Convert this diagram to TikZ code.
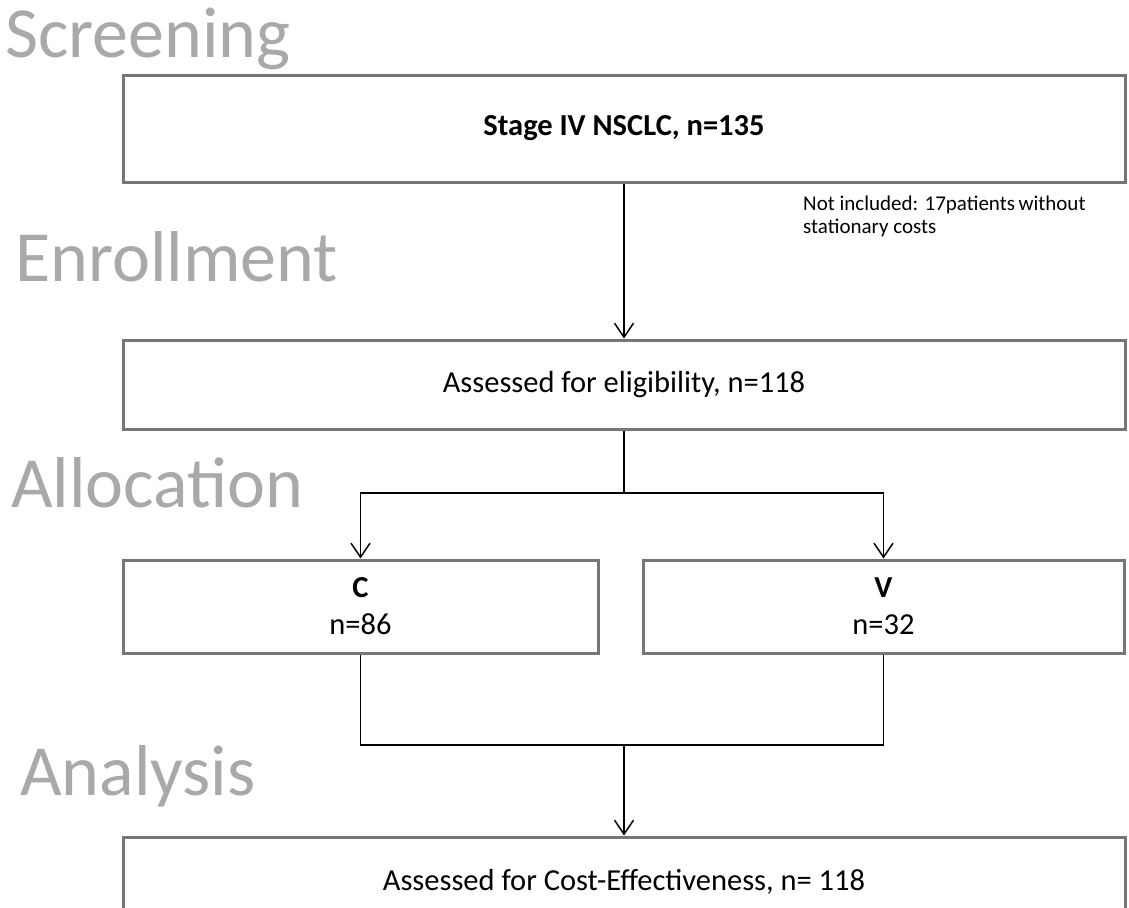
\documentclass[tikz,border=0pt]{standalone}
\usepackage{fontspec}
\setmainfont{Carlito}
\usetikzlibrary{arrows.meta}
\definecolor{boxgray}{HTML}{767676}
\definecolor{phasegray}{HTML}{A9A9A9}
\begin{document}
\begin{tikzpicture}[x=1pt,y=-1pt,
  box/.style={draw=boxgray, line width=3pt, fill=white, rectangle, inner sep=0pt, align=center},
  phase/.style={anchor=base west, inner sep=0pt, text=phasegray, font=\fontsize{72}{86}\selectfont},
  boxtext/.style={font=\fontsize{30.5}{37}\selectfont},
  link/.style={draw=black, line width=1.5pt},
  arr/.style={link, -{Straight Barb[length=14pt,width=19pt,line width=1.5pt]}}
]
\useasboundingbox (0,0) rectangle (1129,907);
\clip (0,0) rectangle (1129,907);
\fill[white] (0,0) rectangle (1129,907);

% phase labels
\node[phase] (ls) at (5,57) {Screening};
\node[phase] (le) at (15,281) {Enrollment};
\node[phase] (la) at (11,507) {Allocation};
\node[phase] (ln) at (20,795) {Analysis};

% boxes
\node[box, boxtext, minimum width=1002pt, minimum height=107pt] (b1) at (624,128.5) {\bfseries Stage IV NSCLC, n=135};
\node[box, boxtext, minimum width=1002pt, minimum height=89pt] (b2) at (624,384.5) {Assessed for eligibility, n=118};
\node[box, boxtext, minimum width=475pt, minimum height=93pt] (bc) at (360.5,606.5) {\textbf{C}\\n=86};
\node[box, boxtext, minimum width=481pt, minimum height=93pt] (bv) at (883.5,606.5) {\textbf{V}\\n=32};
\node[box, boxtext, minimum width=1002pt, minimum height=90pt] (b4) at (624,882) {Assessed for Cost-Effectiveness, n=~118};

% note
\node[anchor=north west, inner sep=0pt, align=left, font=\fontsize{21}{23}\selectfont] (note) at (803,196) {Not included: 17patients\,without\\stationary costs};

% connectors
\coordinate (split) at (624,493);
\coordinate (join) at (624,745);
\draw[arr] (b1.south) -- (b2.north);
\draw[link] (b2.south) -- (split);
\draw[arr] (split) -| (bc.north);
\draw[arr] (split) -| (bv.north);
\draw[link] (bc.south) |- (join);
\draw[link] (bv.south) |- (join);
\draw[arr] (join) -- (b4.north);
\end{tikzpicture}
\end{document}
